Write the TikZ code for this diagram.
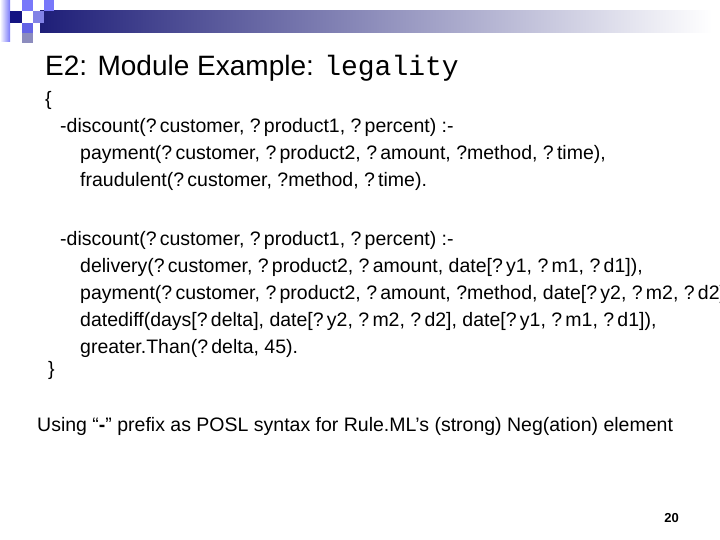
\documentclass[tikz,border=0pt]{standalone}
\usepackage{fontspec}
\setmainfont{Liberation Sans}
\setmonofont{Liberation Mono}
\definecolor{lb}{RGB}{120,120,250}
\definecolor{db}{RGB}{20,20,130}
\definecolor{bar}{RGB}{30,30,120}
\definecolor{mb}{RGB}{130,130,230}
\definecolor{m2}{RGB}{100,100,230}
\definecolor{gb}{RGB}{140,140,190}
\begin{document}
\begin{tikzpicture}[x=1pt,y=-1pt,
  body/.style={anchor=base west,inner sep=0,font=\fontsize{19.5}{22}\selectfont}]
\useasboundingbox (0,0) rectangle (720,540);
\shade[left color=white,right color=lb] (0,0) rectangle (10,42);
\shade[left color=bar,right color=white] (40,11) rectangle (712,33);
\fill[db] (10,11) rectangle (22,23);
\fill[lb] (22,0) rectangle (33,11);
\fill[mb] (33,11) rectangle (44,23);
\fill[lb] (44,0) rectangle (54,11);
\fill[m2] (22,23) rectangle (33,33);
\fill[gb] (22,33) rectangle (33,43);
\node[anchor=base west,inner sep=0,font=\fontsize{28}{32}\selectfont] (title) at (45,76) {E2: Module Example: \texttt{legality}};
\node[body] (l0) at (45,106) {\{};
\node[body] (l1) at (60,133) {-discount(?\,customer, ?\,product1, ?\,percent) :-};
\node[body] (l2) at (80,160) {payment(?\,customer, ?\,product2, ?\,amount, ?method, ?\,time),};
\node[body] (l3) at (80,187) {fraudulent(?\,customer, ?method, ?\,time).};
\node[body] (l4) at (60,245) {-discount(?\,customer, ?\,product1, ?\,percent) :-};
\node[body] (l5) at (80,272) {delivery(?\,customer, ?\,product2, ?\,amount, date[?\,y1, ?\,m1, ?\,d1]),};
\node[body] (l6) at (80,299) {payment(?\,customer, ?\,product2, ?\,amount, ?method, date[?\,y2, ?\,m2, ?\,d2]),};
\node[body] (l7) at (80,326) {datediff(days[?\,delta], date[?\,y2, ?\,m2, ?\,d2], date[?\,y1, ?\,m1, ?\,d1]),};
\node[body] (l8) at (80,353) {greater.Than(?\,delta, 45).};
\node[body] (l9) at (48,375) {\}};
\node[body] (use) at (37,431) {Using “\textbf{-}” prefix as POSL syntax for Rule.ML’s (strong) Neg(ation) element};
\node[anchor=base east,inner sep=0,font=\bfseries\fontsize{13}{15}\selectfont] (pg) at (679,522) {20};
\end{tikzpicture}
\end{document}
